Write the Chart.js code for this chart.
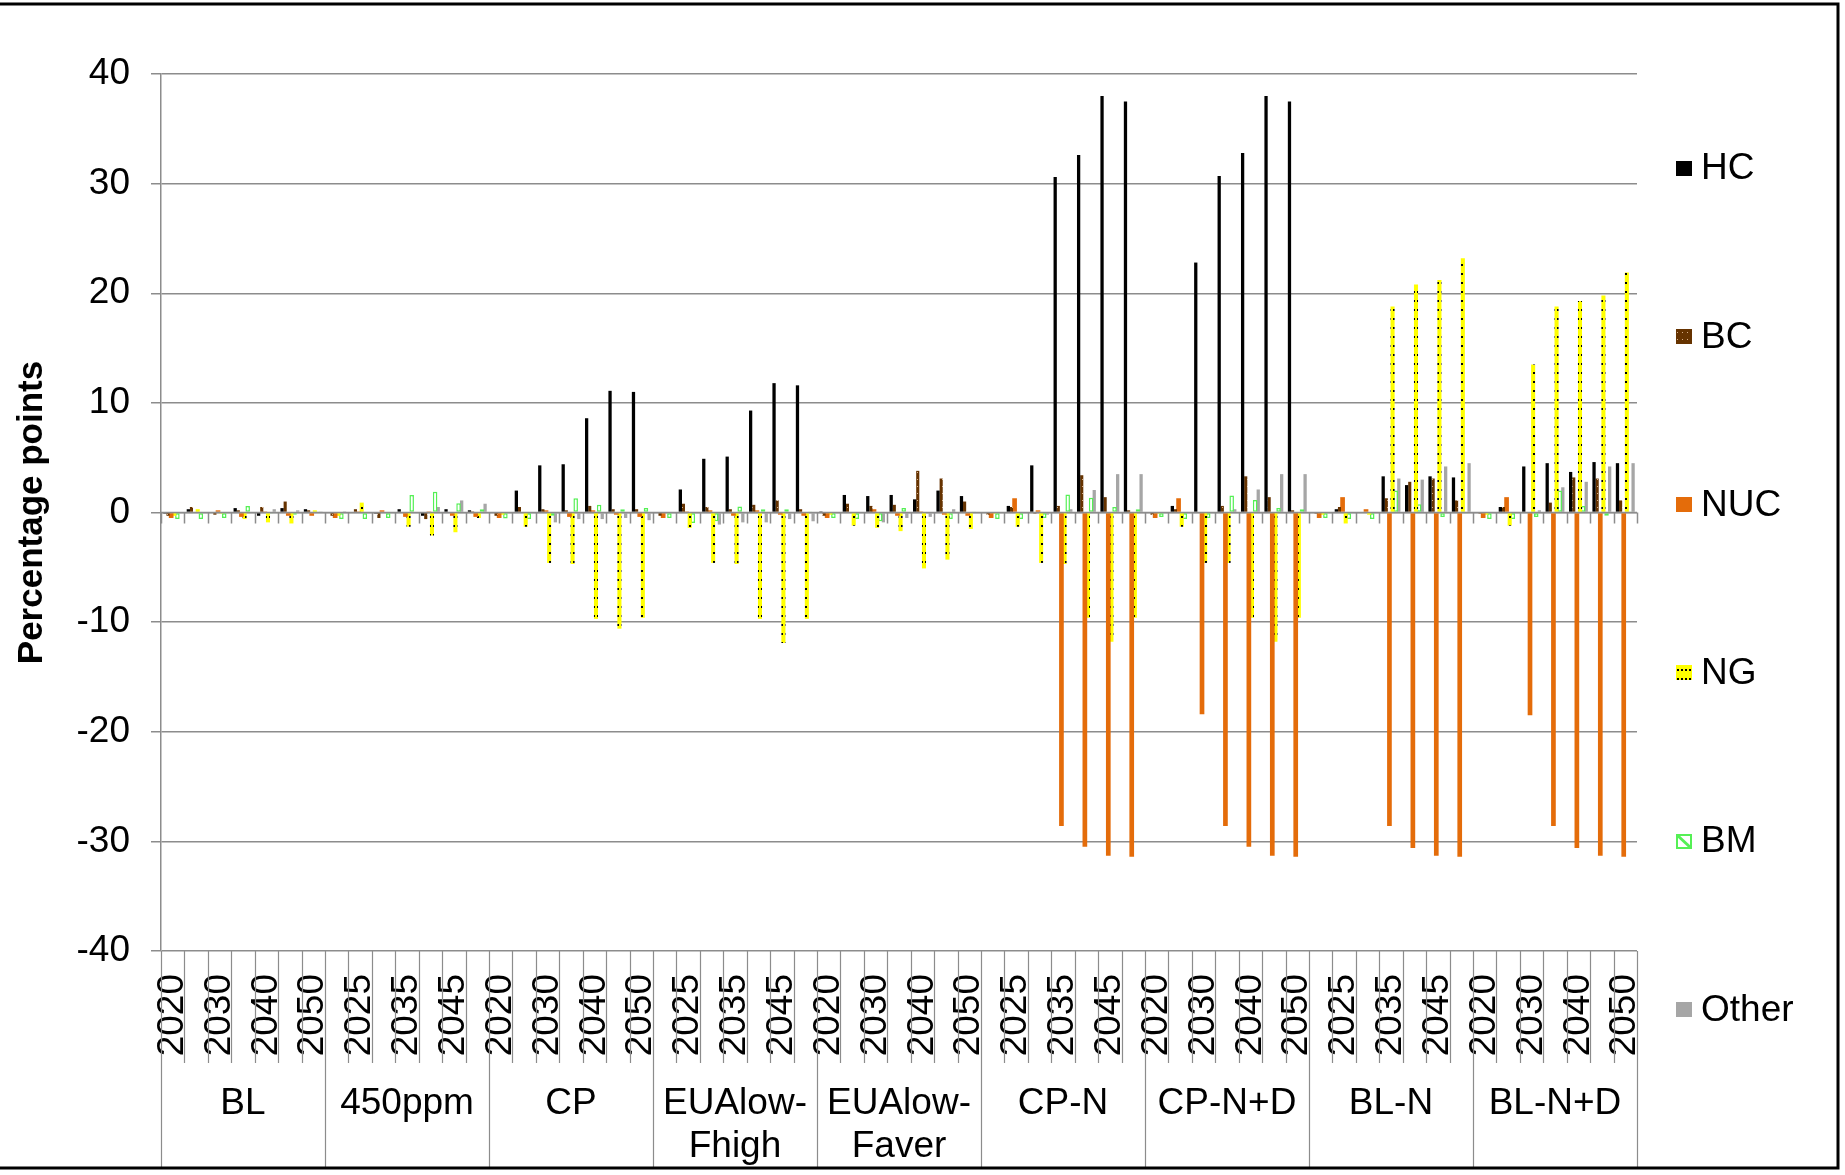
<!DOCTYPE html>
<html>
<head>
<meta charset="utf-8">
<script src="https://cdn.jsdelivr.net/npm/chart.js@4.4.1/dist/chart.umd.min.js"></script>
<style>
  html, body { margin: 0; padding: 0; background: #ffffff; }
  #wrap { width: 1845px; height: 1175px; position: relative; }
</style>
</head>
<body>
<div id="wrap"><canvas id="chart" width="1845" height="1175"></canvas></div>
<script>
// Scenario groups along the x axis (multi-line names as arrays)
const scenarios = ['BL', '450ppm', 'CP', ['EUAlow-', 'Fhigh'], ['EUAlow-', 'Faver'], 'CP-N', 'CP-N+D', 'BL-N', 'BL-N+D'];
// Years inside every scenario
const years = ['2020', '2025', '2030', '2035', '2040', '2045', '2050'];
const seriesNames = ['HC', 'BC', 'NUC', 'NG', 'BM', 'Other'];
const yTicks = { min: -40, max: 40, step: 10 };
const yTitle = 'Percentage points';

// Change in share (percentage points), 7 years per scenario, scenarios in the order above
const hc = [
  -0.1, 0.3, 0.0, 0.4, -0.3, 0.4, 0.3,
  0.0, 0.0, -0.1, 0.3, -0.3, 0.3, 0.2,
  0.0, 2.0, 4.3, 4.4, 8.6, 11.1, 11.0,
  0.0, 2.1, 4.9, 5.1, 9.3, 11.8, 11.6,
  0.1, 1.6, 1.5, 1.6, 1.2, 2.0, 1.5,
  0.0, 0.6, 4.3, 30.6, 32.6, 38.0, 37.5,
  0.0, 0.6, 22.8, 30.7, 32.8, 38.0, 37.5,
  0.0, 0.3, 0.0, 3.3, 2.5, 3.3, 3.2,
  0.0, 0.5, 4.2, 4.5, 3.7, 4.6, 4.5
];
const bc = [
  -0.3, 0.5, -0.2, 0.2, 0.5, 1.0, 0.2,
  -0.3, 0.3, -0.5, 0.0, -0.6, 0.0, 0.1,
  -0.3, 0.5, 0.3, 0.2, 0.6, 0.3, 0.3,
  -0.3, 0.8, 0.5, 0.3, 0.7, 1.1, 0.3,
  -0.3, 0.8, 0.6, 0.7, 3.8, 3.1, 1.0,
  -0.2, 0.5, -0.1, 0.6, 3.4, 1.4, 0.2,
  -0.2, 0.3, 0.0, 0.6, 3.3, 1.4, 0.2,
  -0.1, 0.5, 0.0, 1.3, 2.8, 3.1, 1.1,
  -0.1, 0.5, 0.0, 0.9, 3.2, 3.1, 1.1
];
const nuc = [
  -0.5, 0.0, 0.2, -0.4, 0.1, -0.3, -0.3,
  -0.5, 0.1, 0.2, -0.4, 0.1, -0.3, -0.4,
  -0.5, 0.0, 0.2, -0.4, 0.2, -0.2, -0.4,
  -0.5, 0.1, 0.2, -0.3, 0.2, -0.2, -0.3,
  -0.5, 0.0, 0.3, -0.3, 0.1, -0.2, -0.3,
  -0.5, 1.3, 0.2, -28.6, -30.5, -31.3, -31.4,
  -0.5, 1.3, -18.4, -28.6, -30.5, -31.3, -31.4,
  -0.5, 1.4, 0.3, -28.6, -30.6, -31.3, -31.4,
  -0.5, 1.4, -18.5, -28.6, -30.6, -31.3, -31.4
];
const ng = [
  -0.3, 0.3, -0.1, -0.6, -0.9, -1.0, 0.2,
  -0.3, 0.9, 0.0, -1.3, -2.1, -1.8, -0.5,
  -0.2, -1.3, -4.6, -4.7, -9.7, -10.6, -9.6,
  0.0, -1.4, -4.6, -4.7, -9.7, -11.9, -9.7,
  -0.2, -1.2, -1.4, -1.7, -5.1, -4.3, -1.5,
  -0.1, -1.3, -4.6, -4.7, -9.6, -11.8, -9.6,
  -0.1, -1.3, -4.6, -4.6, -9.6, -11.8, -9.6,
  -0.2, -1.0, -0.2, 18.8, 20.8, 21.2, 23.2,
  -0.2, -1.2, 13.5, 18.8, 19.3, 19.8, 21.9
];
const bm = [
  -0.6, -0.6, -0.5, 0.6, -0.1, -0.2, 0.1,
  -0.6, -0.6, -0.5, 1.6, 1.9, 0.85, 0.3,
  -0.55, -0.6, -0.3, 1.3, 0.7, 0.3, 0.4,
  -0.5, -0.95, -0.8, 0.55, 0.3, 0.3, 0.1,
  -0.5, -0.6, -0.8, 0.4, 0.0, -0.6, 0.1,
  -0.6, -0.6, -0.5, 1.65, 1.35, 0.5, 0.3,
  -0.4, -0.6, -0.5, 1.55, 1.15, 0.4, 0.3,
  -0.5, -0.6, -0.6, 2.0, 0.75, -0.4, -0.1,
  -0.6, -0.6, -0.4, 2.0, 0.6, -0.3, 0.1
];
const other = [
  0.0, 0.0, 0.0, 0.0, 0.3, 0.2, 0.05,
  0.1, 0.0, 0.0, 0.0, 0.5, 1.1, 0.8,
  0.0, 0.0, -0.9, -0.6, -0.6, -0.5, -0.7,
  0.0, 0.0, -1.1, -0.9, -0.9, -0.6, -0.8,
  0.0, 0.0, -0.9, -0.5, -0.4, 0.3, 0.0,
  0.0, 0.0, -0.2, 0.3, 2.05, 3.5, 3.5,
  0.0, 0.0, 0.0, 0.3, 2.1, 3.5, 3.5,
  0.0, 0.0, 0.0, 3.1, 3.0, 4.2, 4.5,
  0.0, 0.0, 0.2, 2.3, 2.8, 4.2, 4.5
];

const FONT = "'Liberation Sans', Arial, Helvetica, sans-serif";
const AXIS_GREY = '#8c8c8c';

// one category per scenario/year pair
const categories = [];
scenarios.forEach(() => years.forEach(y => categories.push(y)));

// fill patterns
function makePattern(w, h, paint) {
  const c = document.createElement('canvas');
  c.width = w; c.height = h;
  const g = c.getContext('2d');
  paint(g, w, h);
  return g.createPattern(c, 'repeat');
}
const bcFill = makePattern(5, 7, (g, w, h) => {
  g.fillStyle = '#663300'; g.fillRect(0, 0, w, h);
  g.fillStyle = '#d8b08a'; g.fillRect(2, 3, 1, 1);
});
const ngFill = makePattern(4, 9, (g, w, h) => {
  g.fillStyle = '#ffff00'; g.fillRect(0, 0, w, h);
  g.fillStyle = '#000000'; g.fillRect(1, 3, 2, 2);
});

const seriesStyle = {
  HC:    { bg: '#000000', border: '#000000', bw: 0, bp: 1.05 },
  BC:    { bg: bcFill,    border: '#663300', bw: 0, bp: 1.0 },
  NUC:   { bg: '#e46c0a', border: '#e46c0a', bw: 0, bp: 1.5 },
  NG:    { bg: ngFill,    border: '#ffff00', bw: 0, bp: 1.3 },
  BM:    { bg: '#ffffff', border: '#55f055', bw: 1.5, bp: 1.45 },
  Other: { bg: '#a6a6a6', border: '#a6a6a6', bw: 0, bp: 1.05 }
};
const seriesData = { HC: hc, BC: bc, NUC: nuc, NG: ng, BM: bm, Other: other };

const datasets = seriesNames.map(name => ({
  label: name,
  data: seriesData[name],
  backgroundColor: seriesStyle[name].bg,
  borderColor: seriesStyle[name].border,
  borderWidth: seriesStyle[name].bw,
  borderSkipped: false,
  barPercentage: seriesStyle[name].bp,
  categoryPercentage: 0.8
}));

// zero axis with category tick marks, label-band separators, scenario names
const categoryBands = {
  id: 'categoryBands',
  afterDatasetsDraw(chart) {
    const { ctx, chartArea } = chart;
    const xs = chart.scales.x, ys = chart.scales.y;
    const n = categories.length;
    const w = xs.width / n;
    const y0 = ys.getPixelForValue(0);
    ctx.save();
    ctx.strokeStyle = AXIS_GREY;
    ctx.lineWidth = 1.5;
    ctx.beginPath();
    ctx.moveTo(chartArea.left, y0);
    ctx.lineTo(chartArea.right, y0);
    for (let i = 0; i <= n; i++) {
      const x = Math.round(xs.left + i * w) + 0.5;
      ctx.moveTo(x, y0);
      ctx.lineTo(x, y0 + 11);
    }
    ctx.stroke();
    ctx.restore();
  },
  afterDraw(chart) {
    const { ctx, chartArea } = chart;
    const xs = chart.scales.x;
    const n = categories.length;
    const w = xs.width / n;
    const per = years.length;
    const bottom = chart.height - 7;
    ctx.save();
    ctx.strokeStyle = AXIS_GREY;
    ctx.lineWidth = 1.2;
    ctx.beginPath();
    for (let i = 0; i <= n; i++) {
      const x = Math.round(xs.left + i * w) + 0.5;
      ctx.moveTo(x, chartArea.bottom);
      ctx.lineTo(x, i % per === 0 ? bottom : chartArea.bottom + 112);
    }
    ctx.stroke();
    ctx.fillStyle = '#000000';
    ctx.font = '37px ' + FONT;
    ctx.textAlign = 'center';
    ctx.textBaseline = 'middle';
    scenarios.forEach((s, g) => {
      const cx = xs.left + (g * per + per / 2) * w;
      const lines = Array.isArray(s) ? s : [s];
      lines.forEach((t, k) => ctx.fillText(t, cx, chartArea.bottom + 153 + k * 43));
    });
    ctx.restore();
  }
};

// series key on the right
const sideKey = {
  id: 'sideKey',
  afterDraw(chart) {
    const { ctx } = chart;
    const x0 = 1676, step = 168.3, first = 168;
    ctx.save();
    ctx.font = '37px ' + FONT;
    ctx.textBaseline = 'middle';
    ctx.textAlign = 'left';
    chart.data.datasets.forEach((ds, i) => {
      const cy = first + i * step;
      const bx = x0, by = Math.round(cy - 7.5), bw = 16, bh = 15;
      if (ds.label === 'BM') {
        ctx.fillStyle = '#ffffff';
        ctx.fillRect(bx, by, bw, bh);
        ctx.strokeStyle = ds.borderColor;
        ctx.lineWidth = 2;
        ctx.strokeRect(bx + 1, by + 1, bw - 2, bh - 2);
        ctx.lineWidth = 3;
        ctx.beginPath();
        ctx.moveTo(bx + 1, by + 1);
        ctx.lineTo(bx + bw - 1, by + bh - 1);
        ctx.stroke();
      } else {
        ctx.fillStyle = ds.backgroundColor;
        ctx.fillRect(bx, by, bw, bh);
      }
      ctx.fillStyle = '#000000';
      ctx.fillText(ds.label, x0 + 25, cy + 1);
    });
    ctx.restore();
  }
};

// outer frame lines
const frame = {
  id: 'frame',
  afterDraw(chart) {
    const { ctx } = chart;
    ctx.save();
    ctx.strokeStyle = '#000000';
    ctx.lineWidth = 3;
    ctx.beginPath();
    ctx.moveTo(0, 4); ctx.lineTo(1838, 4);
    ctx.lineTo(1838, 1168); ctx.lineTo(0, 1168);
    ctx.stroke();
    ctx.restore();
  }
};

new Chart(document.getElementById('chart'), {
  type: 'bar',
  data: { labels: categories, datasets },
  options: {
    responsive: false,
    animation: false,
    events: [],
    layout: { padding: { top: 74, right: 208, left: 0, bottom: 0 } },
    plugins: { legend: { display: false }, tooltip: { enabled: false } },
    scales: {
      x: {
        type: 'category',
        grid: { display: false, drawTicks: false },
        border: { display: false },
        ticks: {
          autoSkip: false,
          minRotation: 90,
          maxRotation: 90,
          padding: 23,
          color: '#000000',
          font: { family: FONT, size: 37 },
          callback: (v, i) => (i % 2 === 0 ? categories[i] : '')
        },
        afterFit: s => { s.height = 224; }
      },
      y: {
        min: yTicks.min,
        max: yTicks.max,
        ticks: {
          stepSize: yTicks.step,
          padding: 21,
          color: '#000000',
          font: { family: FONT, size: 37 }
        },
        grid: { color: AXIS_GREY, lineWidth: 1.5, tickLength: 10, drawTicks: true },
        border: { color: AXIS_GREY, width: 1.5 },
        title: {
          display: true,
          text: yTitle,
          color: '#000000',
          font: { family: FONT, size: 35, weight: 'bold' },
          padding: { top: 11, bottom: 0 }
        },
        afterFit: s => { s.width = 161; }
      }
    }
  },
  plugins: [categoryBands, sideKey, frame]
});
</script>
</body>
</html>
